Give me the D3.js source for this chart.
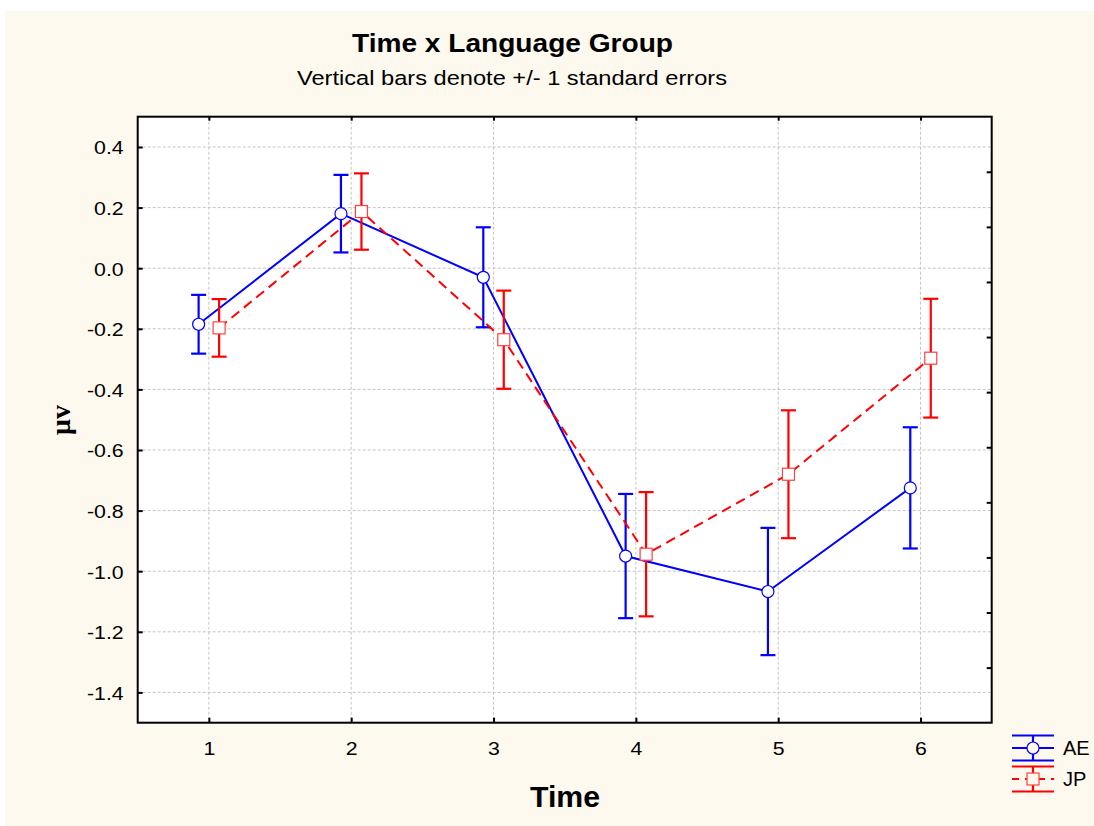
<!DOCTYPE html>
<html>
<head>
<meta charset="utf-8">
<script src="https://cdn.jsdelivr.net/npm/d3@7"></script>
<style>
  html, body { margin: 0; padding: 0; background: #fff; }
  svg { display: block; font-family: "Liberation Sans", Arial, sans-serif; }
</style>
</head>
<body>
<div id="chart"></div>
<script>
// --- data ---
const times = [1, 2, 3, 4, 5, 6];
const aeMean = [-0.185, 0.180, -0.030, -0.950, -1.067, -0.725];
const aeSE   = [0.097, 0.128, 0.165, 0.205, 0.210, 0.200];
const jpMean = [-0.197, 0.187, -0.236, -0.944, -0.680, -0.297];
const jpSE   = [0.095, 0.126, 0.162, 0.205, 0.211, 0.196];
const yTicks = [0.4, 0.2, 0.0, -0.2, -0.4, -0.6, -0.8, -1.0, -1.2, -1.4];

const series = [
  { name: "AE", mean: aeMean, se: aeSE, color: "#0000ff", dash: null, marker: "circle", shift: -0.072 },
  { name: "JP", mean: jpMean, se: jpSE, color: "#ff0000", dash: "10,6", marker: "square", shift: 0.072 }
];

const W = 1094, H = 826;
const plot = { left: 137.7, right: 991.7, top: 116.7, bottom: 722.7 };

const svg = d3.select("#chart").append("svg")
  .attr("width", W).attr("height", H);

// page background
svg.append("rect").attr("width", W).attr("height", H).attr("fill", "#ffffff");
svg.append("rect").attr("x", 5).attr("y", 11).attr("width", W - 5).attr("height", H - 11)
  .attr("fill", "#fdf9ee");

svg.append("rect")
  .attr("x", plot.left).attr("y", plot.top)
  .attr("width", plot.right - plot.left).attr("height", plot.bottom - plot.top)
  .attr("fill", "#ffffff");

const x = d3.scaleLinear().domain([0.5, 6.5]).range([plot.left, plot.right]);
const y = d3.scaleLinear().domain([-1.5, 0.5]).range([plot.bottom, plot.top]);
const yRight = d3.scaleLinear().domain([0, 11]).range([plot.bottom, plot.top]);

// widen glyphs a bit, the original text is drawn wide
function stretch(sel, k) {
  sel.each(function () {
    const len = this.getComputedTextLength();
    d3.select(this).attr("textLength", len * k).attr("lengthAdjust", "spacingAndGlyphs");
  });
}

// --- grid ---
const grid = svg.append("g").attr("stroke", "#c4c4c4").attr("stroke-width", 1)
  .attr("stroke-dasharray", "3,2");
grid.selectAll("line.gy").data(yTicks).join("line")
  .attr("x1", plot.left).attr("x2", plot.right)
  .attr("y1", d => y(d)).attr("y2", d => y(d));
grid.selectAll("line.gx").data(times).join("line")
  .attr("x1", d => x(d)).attr("x2", d => x(d))
  .attr("y1", plot.top).attr("y2", plot.bottom);

// --- axes ---
const axisLeft = svg.append("g").attr("transform", `translate(${plot.left},0)`)
  .call(d3.axisLeft(y).tickValues(yTicks).tickSize(-5).tickPadding(14)
    .tickFormat(d => d.toFixed(1)));
const axisBottom = svg.append("g").attr("transform", `translate(0,${plot.bottom})`)
  .call(d3.axisBottom(x).tickValues(times).tickSize(-5).tickPadding(19)
    .tickFormat(d3.format("d")));
svg.append("g").attr("transform", `translate(0,${plot.top})`)
  .call(d3.axisTop(x).tickValues(times).tickSize(-4).tickFormat(""));
svg.append("g").attr("transform", `translate(${plot.right},0)`)
  .call(d3.axisRight(yRight).tickValues(d3.range(1, 11)).tickSize(-5).tickFormat(""));

svg.selectAll(".domain").remove();
svg.selectAll(".tick line").attr("stroke", "#000").attr("stroke-width", 2);
svg.selectAll(".tick text").attr("font-size", 19).attr("fill", "#000")
  .attr("font-family", "'Liberation Sans', Arial, sans-serif");
axisLeft.selectAll(".tick text").attr("dy", "0.36em");
stretch(axisLeft.selectAll(".tick text"), 1.12);
stretch(axisBottom.selectAll(".tick text"), 1.12);

svg.append("rect")
  .attr("x", plot.left).attr("y", plot.top)
  .attr("width", plot.right - plot.left).attr("height", plot.bottom - plot.top)
  .attr("fill", "none").attr("stroke", "#000").attr("stroke-width", 2);

// --- series ---
const line = d3.line().x(d => x(d.t)).y(d => y(d.v));

series.forEach(s => {
  const pts = times.map((t, i) => ({ t: t + s.shift, v: s.mean[i], se: s.se[i] }));
  const g = svg.append("g");

  g.append("path").datum(pts)
    .attr("d", line).attr("fill", "none")
    .attr("stroke", s.color).attr("stroke-width", 2)
    .attr("stroke-dasharray", s.dash);

  const eb = g.selectAll("g.eb").data(pts).join("g")
    .attr("stroke", s.color).attr("stroke-width", 2.2);
  eb.append("line")
    .attr("x1", d => x(d.t)).attr("x2", d => x(d.t))
    .attr("y1", d => y(d.v + d.se)).attr("y2", d => y(d.v - d.se));
  eb.append("line")
    .attr("x1", d => x(d.t) - 7.5).attr("x2", d => x(d.t) + 7.5)
    .attr("y1", d => y(d.v + d.se)).attr("y2", d => y(d.v + d.se));
  eb.append("line")
    .attr("x1", d => x(d.t) - 7.5).attr("x2", d => x(d.t) + 7.5)
    .attr("y1", d => y(d.v - d.se)).attr("y2", d => y(d.v - d.se));

  if (s.marker === "circle") {
    g.selectAll("circle").data(pts).join("circle")
      .attr("cx", d => x(d.t)).attr("cy", d => y(d.v)).attr("r", 6)
      .attr("fill", "#fff").attr("stroke", s.color).attr("stroke-width", 1.2);
  } else {
    g.selectAll("rect").data(pts).join("rect")
      .attr("x", d => x(d.t) - 6).attr("y", d => y(d.v) - 6)
      .attr("width", 12).attr("height", 12)
      .attr("fill", "#fff").attr("stroke", "#ff4040").attr("stroke-width", 1.2);
  }
});

// --- titles ---
svg.append("text").attr("x", 512.5).attr("y", 52)
  .attr("text-anchor", "middle").attr("font-size", 25).attr("font-weight", "bold")
  .attr("textLength", 321).attr("lengthAdjust", "spacingAndGlyphs")
  .text("Time x Language Group");
svg.append("text").attr("x", 512).attr("y", 85)
  .attr("text-anchor", "middle").attr("font-size", 20.5)
  .attr("textLength", 430).attr("lengthAdjust", "spacingAndGlyphs")
  .text("Vertical bars denote +/- 1 standard errors");
svg.append("text").attr("x", 565).attr("y", 807)
  .attr("text-anchor", "middle").attr("font-size", 30).attr("font-weight", "bold")
  .attr("textLength", 70).attr("lengthAdjust", "spacingAndGlyphs")
  .text("Time");
svg.append("text")
  .attr("transform", "translate(70,420) rotate(-90)")
  .attr("text-anchor", "middle").attr("font-size", 28).attr("font-weight", "bold")
  .attr("font-family", "'Liberation Serif', 'Times New Roman', serif")
  .text("μv");

// --- legend ---
const lg = svg.append("g").attr("transform", "translate(1012,748)");
const item = lg.selectAll("g").data(series).join("g")
  .attr("transform", (d, i) => `translate(0,${i * 31})`);
item.each(function (s) {
  const g = d3.select(this);
  g.append("line").attr("x1", 0).attr("x2", 42).attr("y1", 0).attr("y2", 0)
    .attr("stroke", s.color).attr("stroke-width", 2).attr("stroke-dasharray", s.dash ? "7,6" : null);
  [-12.5, 12.5].forEach(dy => {
    g.append("line").attr("x1", 0).attr("x2", 42).attr("y1", dy).attr("y2", dy)
      .attr("stroke", s.color).attr("stroke-width", 2.2);
  });
  g.append("line").attr("x1", 21).attr("x2", 21).attr("y1", -12.5).attr("y2", 12.5)
    .attr("stroke", s.color).attr("stroke-width", 2.2);
  if (s.marker === "circle") {
    g.append("circle").attr("cx", 21).attr("cy", 0).attr("r", 6)
      .attr("fill", "#fdf9ee").attr("stroke", s.color).attr("stroke-width", 1.2);
  } else {
    g.append("rect").attr("x", 15).attr("y", -6).attr("width", 12).attr("height", 12)
      .attr("fill", "#fdf9ee").attr("stroke", "#ff4040").attr("stroke-width", 1.2);
  }
  g.append("text").attr("x", 51).attr("y", 0).attr("dy", "0.36em")
    .attr("font-size", 20).text(s.name);
});
</script>
</body>
</html>
